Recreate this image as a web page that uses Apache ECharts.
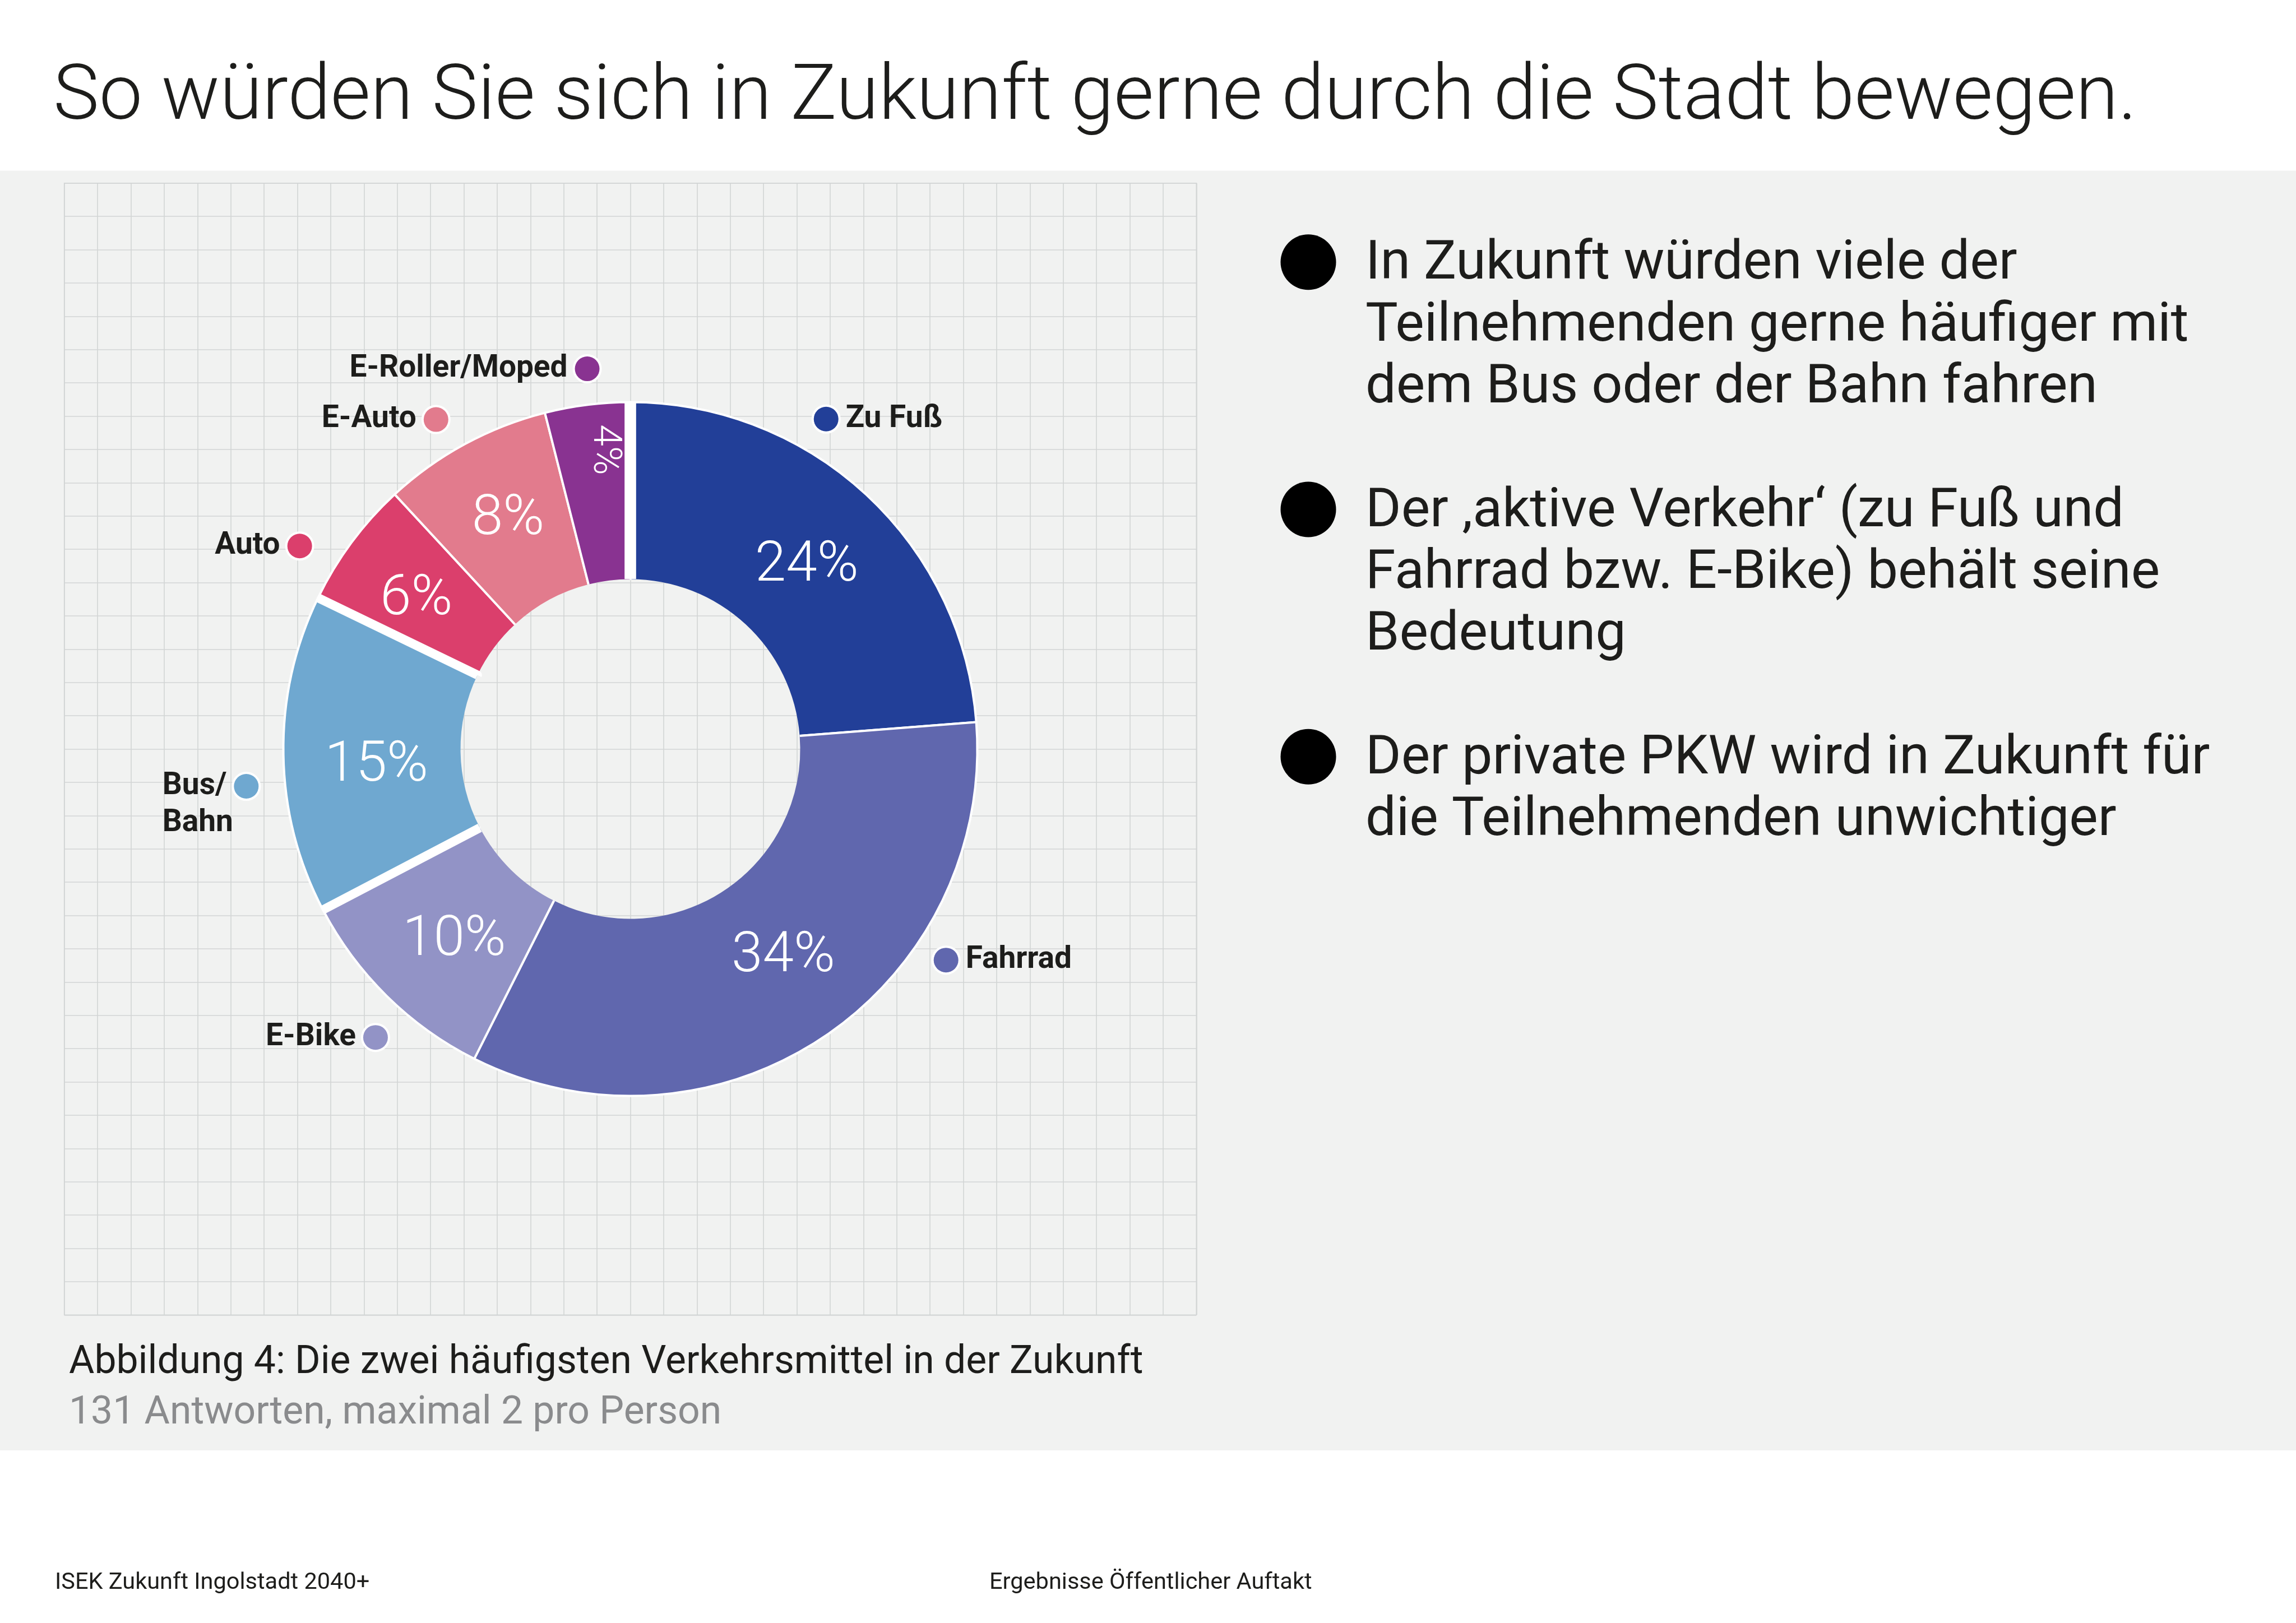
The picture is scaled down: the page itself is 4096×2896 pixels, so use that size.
<!DOCTYPE html>
<html>
<head>
<meta charset="utf-8">
<script src="https://cdn.jsdelivr.net/npm/echarts@6/dist/echarts.min.js"></script>
<style>
html,body{margin:0;padding:0;background:#ffffff;}
#chart{width:4096px;height:2896px;}
</style>
</head>
<body>
<div id="chart"></div>
<script>
// ---------- data ----------
const categories = ['Zu Fuß', 'Fahrrad', 'E-Bike', 'Bus/Bahn', 'Auto', 'E-Auto', 'E-Roller/Moped'];
const values = [24, 34, 10, 15, 6, 8, 4];
const titleText = 'So würden Sie sich in Zukunft gerne durch die Stadt bewegen.';
const bulletPoints = [
  ['In Zukunft würden viele der', 'Teilnehmenden gerne häufiger mit', 'dem Bus oder der Bahn fahren'],
  ['Der ‚aktive Verkehr‘ (zu Fuß und', 'Fahrrad bzw. E-Bike) behält seine', 'Bedeutung'],
  ['Der private PKW wird in Zukunft für', 'die Teilnehmenden unwichtiger']
];
const captionText = 'Abbildung 4: Die zwei häufigsten Verkehrsmittel in der Zukunft';
const subCaptionText = '131 Antworten, maximal 2 pro Person';
const footerLeft = 'ISEK Zukunft Ingolstadt 2040+';
const footerRight = 'Ergebnisse Öffentlicher Auftakt';

// ---------- style / layout ----------
const sliceColors = ['#223f98', '#6067ae', '#9293c6', '#6fa8d0', '#db3f6c', '#e27b8d', '#893391'];
const INK = '#1d1d1b';
const GREY_TEXT = '#8a8b8d';
const PANEL = '#f1f2f1';
const GRID_C = '#d2d5d5';
const FONT = 'Roboto, "Noto Sans", sans-serif';

const CX = 1124.5, CY = 1336.5, R_OUT = 619, R_IN = 303;
const THIN_BORDER = 4;
// wide white separators: slice index -> { width, edges: 'start' | 'both' }
const wideSeparators = { 0: { width: 20.6, edges: 'start' }, 3: { width: 16, edges: 'both' } };

// name labels (dot centres): angle clockwise from 12 o'clock, radius in px
const labelAnchor = {
  angle: [30.65, 123.4, 221.8, 264.8, 301.75, 329.5, 353.4],
  radius: [689, 677, 685, 690, 696, 687, 687]
};
const LABEL_DY = 4;
const lineBreaks = { 3: ['Bus/', 'Bahn'] };
const DOT = 44, DOT_BORDER = 4, DOT_GAP = 13, NAME_SIZE = 55, NAME_LH = 66;

// percent labels placement (angle clockwise from 12 o'clock, radius px)
const pctAnchor = {
  angle: [44.0, 143.7, 222.5, 266.0, 304.8, 331.9, 355.0],
  radius: [453, 461, 465, 454, 465, 463, 536],
  rotate: [0, 0, 0, 0, 0, 0, -90]
};

const richStyles = {
  t: { fontSize: NAME_SIZE, fontWeight: 'bold', fontFamily: FONT, color: INK, lineHeight: NAME_LH },
  tl: { fontSize: NAME_SIZE, fontWeight: 'bold', fontFamily: FONT, color: INK, lineHeight: NAME_LH, align: 'left' },
  g: { width: DOT_GAP }
};
sliceColors.forEach((c, i) => {
  richStyles['d' + i] = { width: DOT, height: DOT, borderRadius: DOT / 2, backgroundColor: c,
    borderColor: '#ffffff', borderWidth: DOT_BORDER };
});

function nameFormatter(p) {
  const i = p.dataIndex;
  const right = labelAnchor.angle[i] < 180;
  if (lineBreaks[i]) {
    return '{t|' + lineBreaks[i][0] + '}{g|}{d' + i + '|}\n{tl|' + lineBreaks[i][1] + '}';
  }
  return right ? '{d' + i + '|}{g|}{t|' + p.name + '}' : '{t|' + p.name + '}{g|}{d' + i + '|}';
}

function nameLabelLayout(p) {
  const i = p.dataIndex;
  const a = labelAnchor.angle[i] * Math.PI / 180;
  const r = labelAnchor.radius[i];
  const px = CX + r * Math.sin(a);
  let py = CY - r * Math.cos(a) + LABEL_DY;
  const right = labelAnchor.angle[i] < 180;
  const half = DOT / 2 + DOT_BORDER / 2;
  if (lineBreaks[i]) py += NAME_LH / 2;
  return { x: right ? px - half : px + half, y: py, align: right ? 'left' : 'right', verticalAlign: 'middle' };
}

function pctLabelLayout(p) {
  const i = p.dataIndex;
  const a = pctAnchor.angle[i] * Math.PI / 180;
  return { x: CX + pctAnchor.radius[i] * Math.sin(a), y: CY - pctAnchor.radius[i] * Math.cos(a),
    rotate: pctAnchor.rotate[i], align: 'center', verticalAlign: 'middle' };
}

// sector path order: outer arc -> radial edge at end -> inner arc -> radial edge at start
function sectorLengths(i) {
  const total = values.reduce((s, v) => s + v, 0);
  const theta = values[i] / total * Math.PI * 2;
  return { outer: R_OUT * theta, inner: R_IN * theta, radial: R_OUT - R_IN };
}

// thin white outline on outer arc and radial edges, none on the inner arc
function sliceStyle(i) {
  const L = sectorLengths(i);
  return { color: sliceColors[i], borderColor: '#ffffff', borderWidth: THIN_BORDER,
    borderType: [L.outer + L.radial, L.inner, L.radial + 1, 0.001], borderDashOffset: 0, borderCap: 'butt' };
}

// dashed white stroke that only covers the radial edges of a sector
function separatorStyle(i) {
  const sep = wideSeparators[i];
  if (!sep) return { color: 'rgba(0,0,0,0)', borderWidth: 0 };
  const L = sectorLengths(i);
  let dash, offset;
  if (sep.edges === 'both') {
    dash = [L.radial, L.inner, L.radial, L.outer];
    offset = 2 * L.radial + L.inner;
  } else {
    dash = [L.radial, L.outer + L.radial + L.inner];
    offset = L.radial;
  }
  return { color: 'rgba(0,0,0,0)', borderColor: '#ffffff', borderWidth: sep.width, borderType: dash, borderDashOffset: offset, borderCap: 'butt' };
}

const bulletText = bulletPoints.map(p => p.join('\n')).join('\n\n');
const BODY_SIZE = 97, BODY_LH = 110.3, BODY_TOP = 418, BODY_X = 2436;
const bulletY = [];
{ let line = 0; bulletPoints.forEach(p => { bulletY.push(BODY_TOP + line * BODY_LH + BODY_LH / 2 - 5.4); line += p.length + 1; }); }

const chart = echarts.init(document.getElementById('chart'), null, { renderer: 'canvas', width: 4096, height: 2896 });

const axisCommon = {
  type: 'value', min: 0, max: 34, interval: 1, silent: true,
  axisLabel: { show: false }, axisTick: { show: false }, axisLine: { show: false },
  splitLine: { show: true, lineStyle: { color: GRID_C, width: 1.6 } }
};

const graphics = [
  { type: 'rect', z: -10, silent: true, shape: { x: 0, y: 304.5, width: 4096, height: 2283.5 }, style: { fill: PANEL } },
  { type: 'text', z: 100, x: 95, y: 177.5, style: { text: titleText, fontSize: 138, fontWeight: 300, fontFamily: FONT, fill: INK, verticalAlign: 'middle', align: 'left' } },
  { type: 'text', z: 100, x: BODY_X, y: BODY_TOP, style: { text: bulletText, fontSize: BODY_SIZE, fontWeight: 400, fontFamily: FONT, fill: INK, lineHeight: BODY_LH, verticalAlign: 'top', align: 'left' } },
  { type: 'text', z: 100, x: 123, y: 2433, style: { text: captionText, fontSize: 69.6, fontWeight: 400, fontFamily: FONT, fill: INK, verticalAlign: 'middle', align: 'left' } },
  { type: 'text', z: 100, x: 123, y: 2523, style: { text: subCaptionText, fontSize: 69.6, fontWeight: 400, fontFamily: FONT, fill: GREY_TEXT, verticalAlign: 'middle', align: 'left' } },
  { type: 'text', z: 100, x: 98, y: 2825, style: { text: footerLeft, fontSize: 41.5, fontWeight: 400, fontFamily: FONT, fill: INK, verticalAlign: 'middle', align: 'left' } },
  { type: 'text', z: 100, x: 1765, y: 2825, style: { text: footerRight, fontSize: 41.5, fontWeight: 400, fontFamily: FONT, fill: INK, verticalAlign: 'middle', align: 'left' } }
];
bulletY.forEach(y => graphics.push({ type: 'circle', z: 100, silent: true, shape: { cx: 2334, cy: y, r: 49.5 }, style: { fill: '#000000' } }));

const option = {
  backgroundColor: '#ffffff',
  animation: false,
  grid: { left: 114.7, top: 326.7, width: 2019.6, height: 2019.6, show: true, borderColor: GRID_C, borderWidth: 1.6, backgroundColor: 'transparent' },
  xAxis: Object.assign({}, axisCommon),
  yAxis: Object.assign({}, axisCommon),
  graphic: graphics,
  series: [
    {
      type: 'pie', name: 'Verkehrsmittel', center: [CX, CY], radius: [R_IN, R_OUT],
      startAngle: 90, clockwise: true, avoidLabelOverlap: false, silent: true,
      data: categories.map((n, i) => ({ name: n, value: values[i], itemStyle: sliceStyle(i) })),
      label: { show: true, position: 'outside', formatter: nameFormatter, rich: richStyles },
      labelLine: { show: false },
      labelLayout: nameLabelLayout
    },
    {
      type: 'pie', name: 'Anteil', center: [CX, CY], radius: [R_IN, R_OUT], z: 3,
      startAngle: 90, clockwise: true, avoidLabelOverlap: false, silent: true,
      data: categories.map((n, i) => ({ name: n, value: values[i], itemStyle: separatorStyle(i),
        label: i === 6 ? { fontSize: 70 } : undefined })),
      label: { show: true, position: 'inside', formatter: '{c}%', color: '#ffffff', fontSize: 100, fontWeight: 300, fontFamily: FONT },
      labelLine: { show: false },
      labelLayout: pctLabelLayout
    }
  ]
};
chart.setOption(option);
</script>
</body>
</html>
